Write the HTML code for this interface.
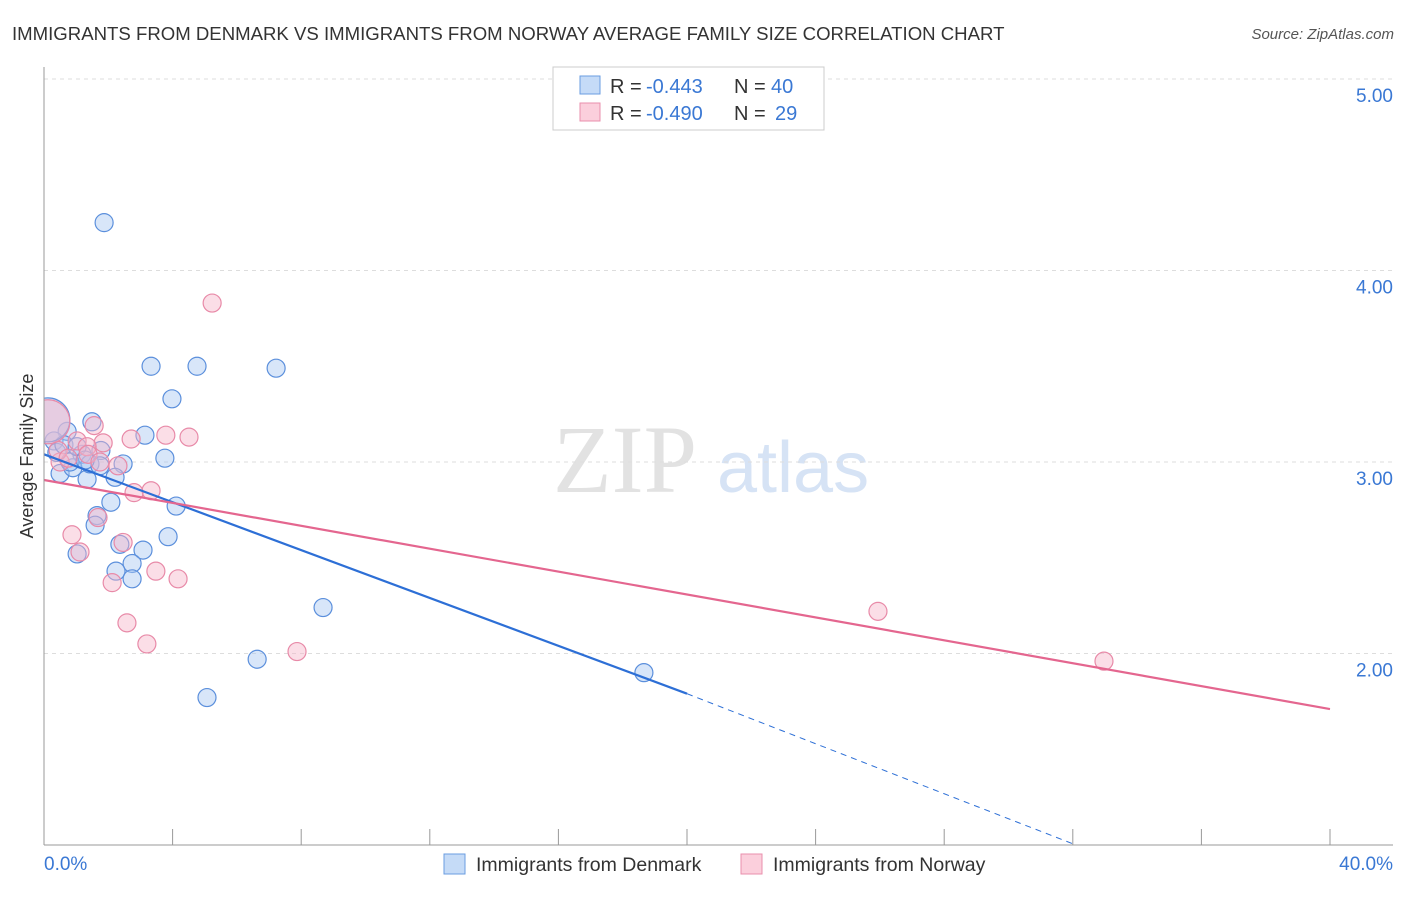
<!DOCTYPE html>
<html><head><meta charset="utf-8"><style>
body{margin:0;background:#fff;font-family:"Liberation Sans",sans-serif}
</style></head><body>
<svg id="c" width="1406" height="892" xmlns="http://www.w3.org/2000/svg" style="font-family:'Liberation Sans',sans-serif">
<defs><clipPath id="plot"><rect x="44" y="60" width="1360" height="785"/></clipPath></defs>
<text x="12" y="40" font-size="18.6" fill="#333">IMMIGRANTS FROM DENMARK VS IMMIGRANTS FROM NORWAY AVERAGE FAMILY SIZE CORRELATION CHART</text>
<text x="1394" y="39" font-size="15" fill="#555" font-style="italic" text-anchor="end">Source: ZipAtlas.com</text>
<text x="33" y="456" font-size="18" fill="#333" text-anchor="middle" transform="rotate(-90 33 456)">Average Family Size</text>
<g><text x="553" y="492" font-size="96" fill="#e2e2e2" font-family="Liberation Serif,serif">ZIP</text><text x="717" y="492" font-size="72" fill="#d6e3f5">atlas</text></g>
<g id="grid"></g><g id="pts" clip-path="url(#plot)"></g><g id="lines"></g>
<line x1="44" y1="67" x2="44" y2="845" stroke="#999"/>
<line x1="44" y1="845" x2="1393" y2="845" stroke="#999"/>
<text x="44" y="870" font-size="19" fill="#3a78d4">0.0%</text>
<text x="1393" y="870" font-size="19" fill="#3a78d4" text-anchor="end">40.0%</text>
<g>
<rect x="553" y="67" width="271" height="63" fill="#fff" stroke="#ccc"/>
<rect x="580" y="76" width="20" height="18" fill="#c5dbf7" stroke="#6a9de0"/>
<rect x="580" y="103" width="20" height="18" fill="#fbcfdc" stroke="#ea8fac"/>
<text x="610" y="93" font-size="20" fill="#333">R =</text><text x="646" y="93" font-size="20" fill="#3a78d4">-0.443</text>
<text x="734" y="93" font-size="20" fill="#333">N =</text><text x="771" y="93" font-size="20" fill="#3a78d4">40</text>
<text x="610" y="120" font-size="20" fill="#333">R =</text><text x="646" y="120" font-size="20" fill="#3a78d4">-0.490</text>
<text x="734" y="120" font-size="20" fill="#333">N =</text><text x="775" y="120" font-size="20" fill="#3a78d4">29</text>
</g>
<g>
<rect x="444" y="854" width="21" height="20" fill="#c5dbf7" stroke="#6a9de0"/>
<text x="476" y="871" font-size="19.5" fill="#333">Immigrants from Denmark</text>
<rect x="741" y="854" width="21" height="20" fill="#fbcfdc" stroke="#ea8fac"/>
<text x="773" y="871" font-size="19.5" fill="#333">Immigrants from Norway</text>
</g>
</svg>
<script>
const yTicks=[2,3,4,5];
const yTickLabels=["2.00","3.00","4.00","5.00"];
const xTicks=[4,8,12,16,20,24,28,32,36,40];
const denX=[1.87,3.33,4.76,7.22,3.98,1.49,3.14,0.72,0.31,1.77,1.18,3.76,2.46,0.50,0.90,1.34,2.21,1.43,2.08,4.11,1.65,1.59,3.86,2.36,1.03,3.08,2.74,2.24,2.74,8.68,6.63,18.66,5.07,0.40,0.81,0.62,1.74,1.03,1.28,0.12];
const denY=[4.25,3.50,3.50,3.49,3.33,3.21,3.14,3.16,3.11,3.06,3.04,3.02,2.99,2.94,2.97,2.91,2.92,2.99,2.79,2.77,2.72,2.67,2.61,2.57,2.52,2.54,2.47,2.43,2.39,2.24,1.97,1.90,1.77,3.05,3.00,3.09,2.98,3.08,3.01,3.22];
const norX=[5.23,1.56,4.51,3.79,2.71,1.03,1.84,1.34,0.50,2.30,3.33,2.80,1.68,0.87,2.46,1.12,3.48,4.17,2.12,2.58,3.20,7.87,25.94,32.97,0.44,0.75,1.37,1.74,0.12];
const norY=[3.83,3.19,3.13,3.14,3.12,3.11,3.10,3.08,3.00,2.98,2.85,2.84,2.71,2.62,2.58,2.53,2.43,2.39,2.37,2.16,2.05,2.01,2.22,1.96,3.06,3.02,3.04,3.00,3.21];
const denTrend=[3.04,1.79,1.0];const denTrendX=[0,20,32.1];
const norTrend=[2.906,1.71];const norTrendX=[0,40];
const X=v=>44+v*32.15, Y=v=>845-(v-1)*191.5;
const NS="http://www.w3.org/2000/svg";
function mk(t,a,p){const e=document.createElementNS(NS,t);for(const k in a)e.setAttribute(k,a[k]);p.appendChild(e);return e;}
const g=document.getElementById('grid');
yTicks.forEach((t,i)=>{
 const l=mk('line',{x1:44,x2:1393,y1:Y(t),y2:Y(t),stroke:'#ddd','stroke-dasharray':'4,4'},g);
 
 
 const tx=mk('text',{x:1393,y:Y(t)+23,'font-size':19,fill:'#3a78d4','text-anchor':'end'},g);
 tx.textContent=yTickLabels[i];
 
 
});
xTicks.forEach(t=>{
 const l=mk('line',{x1:X(t),x2:X(t),y1:829,y2:845,stroke:'#999'},g);
 
 
});
const p=document.getElementById('pts');
function pts(xs,ys,fill,stroke,name){xs.forEach((x,i)=>{
 const big=(x<0.2);
 const c=mk('circle',{cx:X(x),cy:Y(ys[i]),r:big?22:9,fill:fill,'fill-opacity':big?0.5:0.45,stroke:stroke,'stroke-width':1.2},p);
 
 
});}
pts(denX,denY,'#a9c8f2','#5b8fdc','denmark-point');
pts(norX,norY,'#f7b6ca','#e88aa8','norway-point');
const L=document.getElementById('lines');
const b1=mk('line',{x1:X(denTrendX[0]),y1:Y(denTrend[0]),x2:X(denTrendX[1]),y2:Y(denTrend[1]),stroke:'#2d6fd6','stroke-width':2.2},L);


const b2=mk('line',{x1:X(denTrendX[1]),y1:Y(denTrend[1]),x2:X(denTrendX[2]),y2:Y(denTrend[2]),stroke:'#2d6fd6','stroke-width':1,'stroke-dasharray':'6,5'},L);


const n1=mk('line',{x1:X(norTrendX[0]),y1:Y(norTrend[0]),x2:X(norTrendX[1]),y2:Y(norTrend[1]),stroke:'#e4668f','stroke-width':2.2},L);


</script>
</body></html>
